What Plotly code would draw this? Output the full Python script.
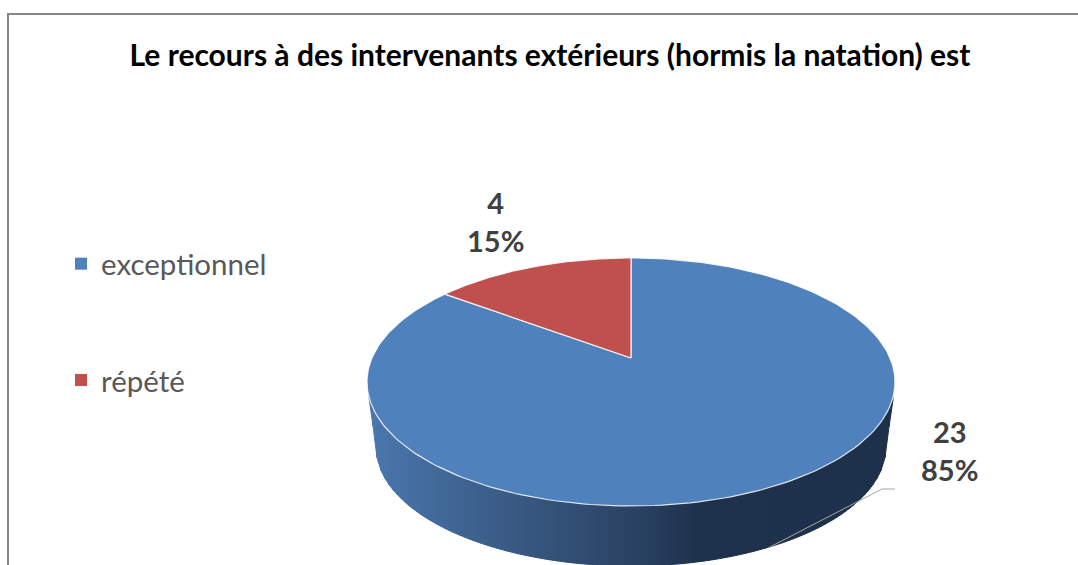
import numpy as np
import plotly.graph_objects as go

# ---- data ----
categories = ["exceptionnel", "répété"]
values = [23, 4]
colors = ["#4f81bd", "#c0504d"]
title_text = "Le recours à des intervenants extérieurs (hormis la natation) est"

# ---- pie projection (screen axes run in pixels of the 1078x565 frame) ----
CX, CY = 631, 382          # centre of the top ellipse
RX, RY = 259, 124          # radii of the top ellipse
TIP = -24                  # circle centre, offset from the ellipse centre
PERSP = -0.1935


def project(frac):
    """Fraction of the pie, clockwise from 12 o'clock, to screen x, y."""
    a = 2 * np.pi * np.asarray(frac, dtype=float)
    u, v = np.sin(a), -np.cos(a)
    d = 1 + PERSP * v
    return CX + RX * u / d, CY + (RY * v + TIP) / d


total = sum(values)
shares = [v / total for v in values]
starts = np.cumsum([0] + shares[:-1])

# side wall
BOT_CY, BOT_RX, BOT_RY = 447, 255, 119
SIDE_L, SIDE_R = 369, 893
SIDE_TOP_L, SIDE_TOP_R = 398, 400
grad_x = [372, 500, 640, 700, 893]
grad_r = [0x4a, 0x3b, 0x2a, 0x1f, 0x1e]
grad_g = [0x78, 0x5d, 0x42, 0x32, 0x31]
grad_b = [0xad, 0x88, 0x62, 0x4e, 0x4b]


def lower(x):
    if x < CX - BOT_RX:
        return SIDE_TOP_L + (BOT_CY - SIDE_TOP_L) * (x - SIDE_L) / (CX - BOT_RX - SIDE_L)
    if x > CX + BOT_RX:
        return SIDE_TOP_R + (BOT_CY - SIDE_TOP_R) * (SIDE_R - x) / (SIDE_R - CX - BOT_RX)
    return BOT_CY + BOT_RY * np.sqrt(max(0, 1 - ((x - CX) / BOT_RX) ** 2))


fig = go.Figure()

edges = np.arange(SIDE_L, SIDE_R + 4, 4)
for x0, x1 in zip(edges[:-1], edges[1:]):
    xm = (x0 + x1) / 2
    col = "rgb(%d,%d,%d)" % tuple(np.interp(xm, grad_x, c) for c in (grad_r, grad_g, grad_b))
    fig.add_trace(go.Scatter(
        x=[x0, x1, x1, x0, x0], y=[CY, CY, lower(x1), lower(x0), CY],
        mode="lines", fill="toself", fillcolor=col,
        line=dict(color=col, width=1), showlegend=False, hoverinfo="skip"))

# top slices
tip_x, tip_y = CX, CY + TIP
for name, s, f, c in zip(categories, shares, starts, colors):
    xs, ys = project(np.linspace(f, f + s, 240))
    fig.add_trace(go.Scatter(
        x=[tip_x, *xs, tip_x], y=[tip_y, *ys, tip_y],
        mode="lines", fill="toself", fillcolor=c,
        line=dict(color="rgba(255,255,255,0.85)", width=1.2),
        showlegend=False, hoverinfo="skip", name=name))

# leader line of the larger slice
fig.add_trace(go.Scatter(
    x=[895, 882, 768], y=[489, 489, 548], mode="lines",
    line=dict(color="#a6a6a6", width=1), showlegend=False, hoverinfo="skip"))

# legend entries
for name, c in zip(categories, colors):
    fig.add_trace(go.Scatter(
        x=[None], y=[None], mode="markers", name=name, legendgroup=name,
        marker=dict(symbol="square", size=12, color=c)))

label_pos = [(949, 450), (495, 221)]
for (lx, ly), v, s in zip(label_pos, values, shares):
    fig.add_annotation(
        x=lx, y=ly, xref="x", yref="y", showarrow=False,
        text=f"{v}<br>{round(s * 100)}%", align="center",
        font=dict(family="Lato", size=29, color="#404040", weight="bold"),
        )

fig.add_shape(type="path", path="M 8 565 L 8 14 L 1078 14",
              line=dict(color="#868686", width=2), xref="x", yref="y")

fig.update_layout(
    width=1078, height=565, autosize=False,
    margin=dict(l=0, r=0, t=0, b=0), paper_bgcolor="white", plot_bgcolor="white",
    title=dict(text=f"<b>{title_text}</b>", x=550 / 1078, xanchor="center",
               y=1 - 55 / 565, yanchor="middle",
               font=dict(family="Lato", size=30, color="#000000")),
    xaxis=dict(range=[0, 1078], visible=False, fixedrange=True),
    yaxis=dict(range=[565, 0], visible=False, fixedrange=True),
    legend=dict(x=61 / 1078, y=1 - 238 / 565, xanchor="left", yanchor="top",
                font=dict(family="Lato", size=29.5, color="#595959"),
                tracegroupgap=75, bgcolor="rgba(0,0,0,0)", itemwidth=30),
)

fig.write_html("out.html", config=dict(displayModeBar=False),
               post_script="document.body.style.margin='0';document.body.style.overflow='hidden';")
